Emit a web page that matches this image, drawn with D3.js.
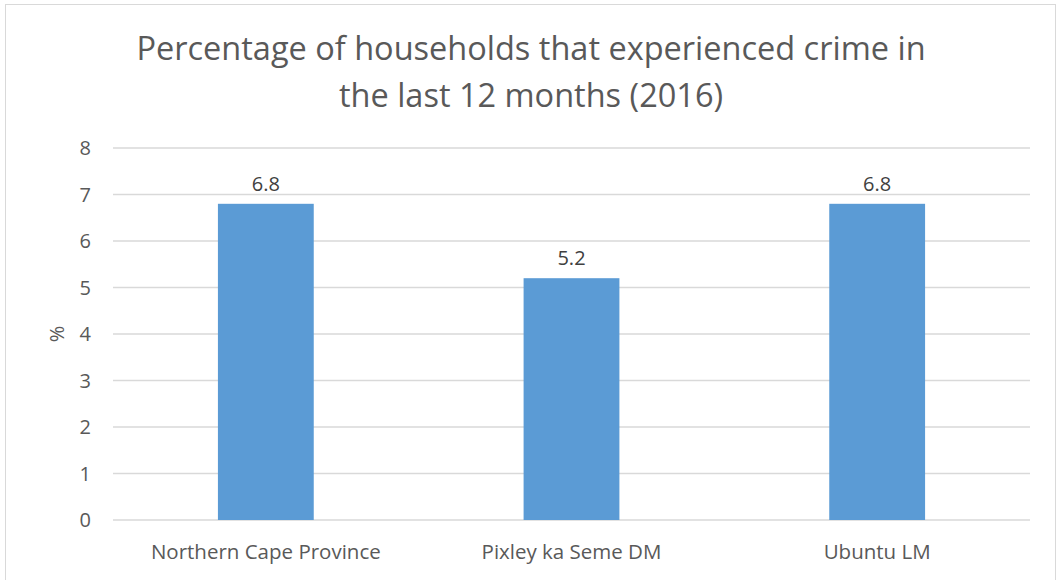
<!DOCTYPE html>
<html>
<head>
<meta charset="utf-8">
<script src="https://cdn.jsdelivr.net/npm/d3@7"></script>
<style>
  body { margin: 0; background: #fff; }
  svg text { font-family: "Open Sans", "Noto Sans", sans-serif; }
</style>
</head>
<body>
<div id="chart"></div>
<script>
// Data
const categories = ["Northern Cape Province", "Pixley ka Seme DM", "Ubuntu LM"];
const values = [6.8, 5.2, 6.8];
const yTicks = [0, 1, 2, 3, 4, 5, 6, 7, 8];
const titleLines = ["Percentage of households that experienced crime in", "the last 12 months (2016)"];
const yLabel = "%";

const W = 1059, H = 580;
const plot = { left: 113, right: 1030, top: 148, bottom: 520 };

const svg = d3.select("#chart")
    .append("svg")
    .attr("width", W)
    .attr("height", H);

// Chart border
svg.append("rect")
    .attr("x", 5.5)
    .attr("y", 4.5)
    .attr("width", 1050)
    .attr("height", 600)
    .attr("fill", "none")
    .attr("stroke", "#d9d9d9");

const x = d3.scaleBand()
    .domain(categories)
    .range([plot.left, plot.right])
    .padding(0);

const y = d3.scaleLinear()
    .domain([0, 8])
    .range([plot.bottom, plot.top]);

const barW = x.bandwidth() / 3.19;

// Grid lines
svg.selectAll(".grid")
    .data(yTicks)
    .enter()
    .append("line")
    .attr("x1", plot.left)
    .attr("x2", plot.right)
    .attr("y1", d => y(d))
    .attr("y2", d => y(d))
    .attr("stroke", "#d9d9d9")
    .attr("stroke-width", 1.3);

// Y tick labels
svg.selectAll(".ytick")
    .data(yTicks)
    .enter()
    .append("text")
    .attr("x", 91)
    .attr("y", d => y(d))
    .attr("dy", "0.36em")
    .attr("text-anchor", "end")
    .attr("fill", "#595959")
    .style("font-size", "20px")
    .text(d => d);

// Bars
svg.selectAll(".bar")
    .data(values)
    .enter()
    .append("rect")
    .attr("x", (d, i) => x(categories[i]) + x.bandwidth() / 2 - barW / 2)
    .attr("y", d => y(d))
    .attr("width", barW)
    .attr("height", d => y(0) - y(d))
    .attr("fill", "#5b9bd5");

// Data labels
svg.selectAll(".val")
    .data(values)
    .enter()
    .append("text")
    .attr("x", (d, i) => x(categories[i]) + x.bandwidth() / 2)
    .attr("y", d => y(d) - 13)
    .attr("text-anchor", "middle")
    .attr("fill", "#404040")
    .style("font-size", "20px")
    .text(d => d.toFixed(1));

// Category labels
svg.selectAll(".cat")
    .data(categories)
    .enter()
    .append("text")
    .attr("x", d => x(d) + x.bandwidth() / 2)
    .attr("y", 559)
    .attr("text-anchor", "middle")
    .attr("fill", "#595959")
    .style("font-size", "20.5px")
    .text(d => d);

// Y axis title
svg.append("text")
    .attr("transform", `translate(64, ${(plot.top + plot.bottom) / 2}) rotate(-90)`)
    .attr("text-anchor", "middle")
    .attr("fill", "#595959")
    .style("font-size", "20px")
    .text(yLabel);

// Title
svg.selectAll(".title")
    .data(titleLines)
    .enter()
    .append("text")
    .attr("x", 531)
    .attr("y", (d, i) => 60 + i * 47)
    .attr("text-anchor", "middle")
    .attr("fill", "#595959")
    .style("font-size", "32.5px")
    .text(d => d);
</script>
</body>
</html>
